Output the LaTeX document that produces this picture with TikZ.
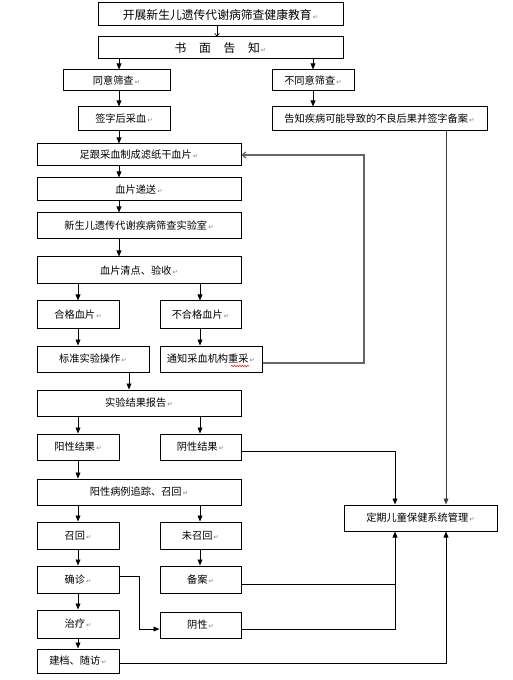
\documentclass[tikz,border=0pt]{standalone}
\usepackage{fontspec}
\newfontfamily\cjk{Noto Sans CJK SC}
\newfontfamily\djv{DejaVu Sans}
\usetikzlibrary{arrows.meta,decorations.pathmorphing}
\newcommand\rmk{\hspace{0.8pt}{\djv\fontsize{4.8pt}{5pt}\selectfont\color{gray}↵}}
\newcommand\bx[6]{\node[box,minimum width={(#4-#2)*0.75pt},minimum height={(#5-#3)*0.75pt}] (#1) at ({(#2+#4)/2},{(#3+#5)/2}) {#6\rmk};}
\newcommand\bigf{\fontsize{8.85pt}{10pt}\selectfont}
\begin{document}
\begin{tikzpicture}[x=0.75pt,y=-0.75pt,
  box/.style={draw,line width=0.75pt,inner sep=0pt,font=\cjk\fontsize{7.65pt}{9pt}\selectfont},
  arr/.style={line width=0.7pt,-{Triangle[length=4.5pt,width=3.6pt]}},
  ln/.style={line width=0.7pt},
  thinarr/.style={line width=0.5pt,-{Straight Barb[length=2pt,width=3.5pt]}},
  fb/.style={line width=1pt,draw=black!60,-{Straight Barb[length=2.5pt,width=4.5pt]}}]
\useasboundingbox (0,0) rectangle (512,680);
\bx{b1}{98}{3}{343}{26}{{\bigf 开展新生儿遗传代谢病筛查健康教育}}
\bx{b2}{98}{37}{343}{59}{{\bigf 书\hspace{9.5pt}面\hspace{9.5pt}告\hspace{9.5pt}知}}
\bx{b3}{63}{70}{170}{91}{同意筛查}
\bx{b4}{272}{70}{354}{91}{不同意筛查}
\bx{b5}{78}{107}{170}{131}{签字后采血}
\bx{b6}{272}{107}{487}{131}{告知疾病可能导致的不良后果并签字备案}
\bx{b7}{37}{144}{241}{166}{足跟采血制成滤纸干血片}
\bx{b8}{37}{178}{241}{201}{血片递送}
\bx{b9}{37}{213}{241}{239}{新生儿遗传代谢疾病筛查实验室}
\bx{b10}{37}{257}{241}{284}{血片清点、验收}
\bx{b11}{37}{301}{119}{328}{合格血片}
\bx{b12}{160}{301}{241}{328}{不合格血片}
\bx{b13}{37}{346}{149}{372}{标准实验操作}
\bx{b14}{160}{346}{262}{372}{通知采血机构重采}
\bx{b15}{37}{390}{241}{416}{实验结果报告}
\bx{b16}{37}{434}{119}{460}{阳性结果}
\bx{b17}{160}{434}{241}{460}{阴性结果}
\bx{bM}{344}{505}{497}{531}{定期儿童保健系统管理}
\bx{b18}{37}{479}{241}{505}{阳性病例追踪、召回}
\bx{b19}{37}{522}{119}{549}{召回}
\bx{b20}{160}{522}{241}{549}{未召回}
\bx{b21}{37}{566}{119}{593}{确诊}
\bx{b22}{160}{566}{241}{593}{备案}
\bx{b23}{37}{610}{119}{638}{治疗}
\bx{b24}{160}{612}{241}{638}{阴性}
\bx{b25}{37}{649}{119}{673}{建档、随访}
% spell-check wave
\draw[red,line width=0.4pt,decorate,decoration={snake,amplitude=0.5pt,segment length=2pt}] (231,366) -- (249,366);
% connectors
\draw[thinarr] (b1.south -| 217,0) -- (b2.north -| 217,0);
\draw[arr] (b2.south -| 119,0) -- (b3.north -| 119,0);
\draw[arr] (b2.south -| 313,0) -- (b4.north -| 313,0);
\draw[arr] (b3.south -| 119,0) -- (b5.north -| 119,0);
\draw[arr] (b4.south -| 313,0) -- (b6.north -| 313,0);
\draw[arr] (b5.south -| 119,0) -- (b7.north -| 119,0);
\draw[arr] (b7.south -| 119,0) -- (b8.north -| 119,0);
\draw[arr] (b8.south -| 119,0) -- (b9.north -| 119,0);
\draw[arr] (b9.south -| 119,0) -- (b10.north -| 119,0);
\draw[arr] (b10.south -| 78,0) -- (b11.north -| 78,0);
\draw[arr] (b10.south -| 200,0) -- (b12.north -| 200,0);
\draw[arr] (b11.south -| 78,0) -- (b13.north -| 78,0);
\draw[arr] (b12.south -| 200,0) -- (b14.north -| 200,0);
\draw[arr] (b13.south -| 129,0) -- (b15.north -| 129,0);
\coordinate (fb1) at (364,363);
\draw[fb] (b14.east |- fb1) -- (fb1) -- (fb1 |- b7.east) -- (b7.east);
\draw[arr] (b15.south -| 78,0) -- (b16.north -| 78,0);
\draw[arr] (b15.south -| 200,0) -- (b17.north -| 200,0);
\draw[arr] (b16.south -| 78,0) -- (b18.north -| 78,0);
\draw[arr] (b18.south -| 78,0) -- (b19.north -| 78,0);
\draw[arr] (b18.south -| 200,0) -- (b20.north -| 200,0);
\draw[arr] (b19.south -| 78,0) -- (b21.north -| 78,0);
\draw[arr] (b20.south -| 200,0) -- (b22.north -| 200,0);
\draw[arr] (b21.south -| 78,0) -- (b23.north -| 78,0);
\draw[arr] (b23.south -| 78,0) -- (b25.north -| 78,0);
\draw[arr,draw=black!75] (b6.south -| 446,0) -- (bM.north -| 446,0);
\draw[arr] (b17.east |- 0,451) -| (bM.north -| 395,0);
\draw[arr] (b21.east |- 0,576) -| (139,629) -- (b24.west |- 0,629);
\draw[ln] (b22.east |- 0,584) -- (395,584);
\draw[arr] (b24.east |- 0,629) -| (bM.south -| 395,0);
\draw[arr] (b25.east |- 0,663) -| (bM.south -| 446,0);
\end{tikzpicture}
\end{document}
